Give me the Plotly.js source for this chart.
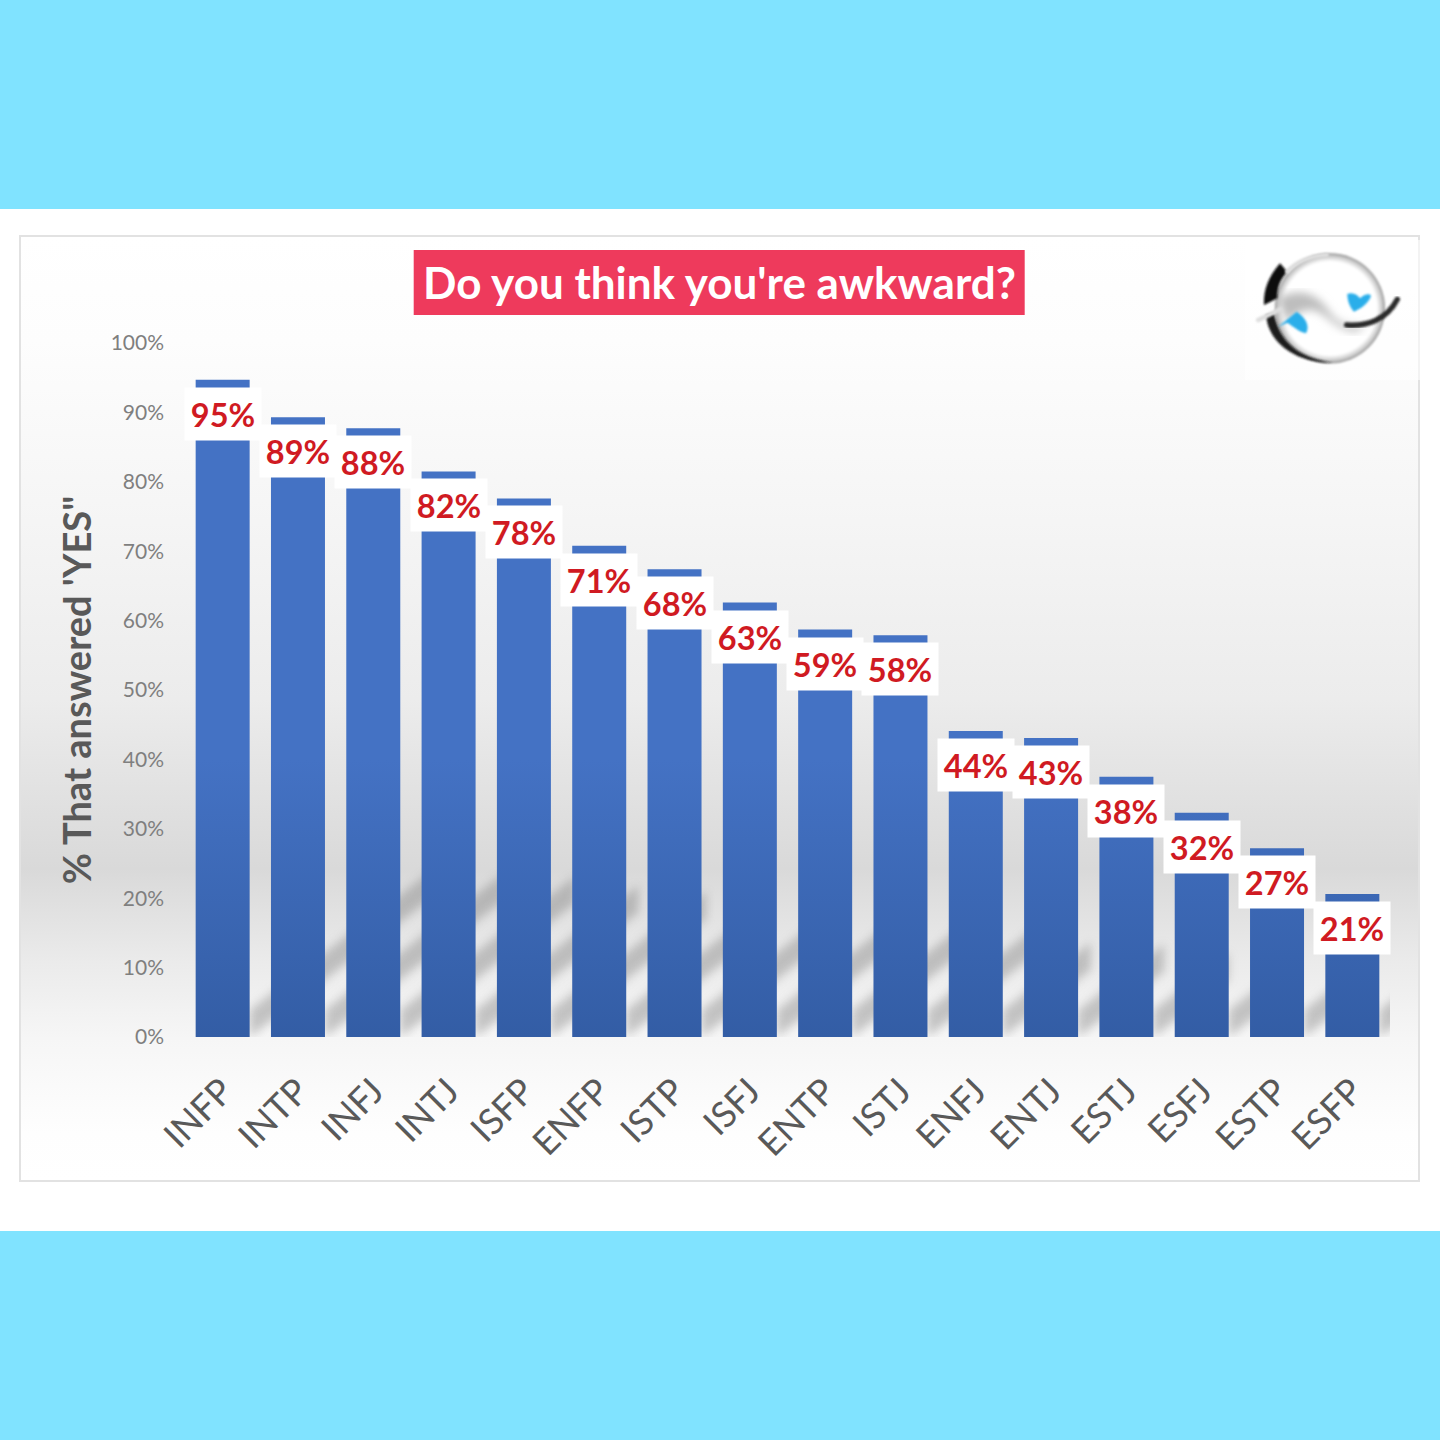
<!DOCTYPE html>
<html>
<head>
<meta charset="utf-8">
<script src="https://cdn.plot.ly/plotly-3.0.1.min.js"></script>
<style>
  html, body { margin: 0; padding: 0; width: 1440px; height: 1440px; background: #80e3ff; overflow: hidden; }
  #band { position: absolute; left: 0; top: 209px; width: 1440px; height: 1022px; background: #fff; }
  #card { position: absolute; left: 19px; top: 235px; width: 1397px; height: 943px; border: 2px solid #e2e2e2;
    background: linear-gradient(to bottom, #ffffff 0%, #fdfdfd 11%, #f6f6f6 28%, #ececec 49%, #d9d9d9 67%, #ebebeb 77%, #f6f6f6 85%, #fefefe 95%, #ffffff 100%); }
  #chart { position: absolute; left: 0; top: 0; width: 1440px; height: 1440px; }
  #logo { position: absolute; left: 1200px; top: 230px; width: 230px; height: 160px; }
  #chart .layer-subplot .shapelayer path { filter: blur(5px); }
</style>
</head>
<body>
<div id="band"></div>
<div id="card"></div>
<div id="chart"></div>
<svg id="logo" viewBox="0 0 690 480">
  <defs>
    <radialGradient id="ball" cx="0.5" cy="0.5" r="0.5">
      <stop offset="0.85" stop-color="#ffffff"/>
      <stop offset="0.96" stop-color="#c2c2c2"/>
      <stop offset="1" stop-color="#8a8a8a"/>
    </radialGradient>
    <filter id="soft"><feGaussianBlur stdDeviation="3"/></filter>
    <filter id="softer"><feGaussianBlur stdDeviation="12"/></filter>
  </defs>
  <rect x="135" y="30" width="530" height="420" fill="#ffffff" opacity="0.6"/>
  <circle cx="390" cy="235" r="165" fill="url(#ball)" filter="url(#soft)"/>
  <path d="M232 205 C300 170 350 190 385 240 C415 285 450 290 500 285 L470 305 C430 305 400 280 370 255 C330 225 285 245 262 280 Z" fill="#bdbdbd" filter="url(#softer)"/>
  <path d="M240 100 C205 140 190 180 192 225 L232 205 C232 170 240 150 262 125 Z" fill="#111" filter="url(#soft)"/>
  <path d="M198 255 C205 340 290 400 400 398 C300 385 240 340 222 250 Z" fill="#1b1b1b" filter="url(#soft)"/>
  <path d="M175 270 L240 238 M262 125 C290 95 330 78 380 75" stroke="#dedede" stroke-width="14" stroke-linecap="round" fill="none" filter="url(#soft)"/>
  <path d="M440 285 C500 290 560 270 592 208" stroke="#2a2a2a" stroke-width="16" stroke-linecap="round" fill="none" filter="url(#soft)"/>
  <path d="M235 290 L290 245 C320 265 330 290 318 310 C295 305 275 285 262 278 Z" fill="#2aaeea" filter="url(#soft)"/>
  <path d="M442 192 C460 185 475 198 480 205 C495 190 510 190 513 198 C505 220 485 235 462 245 C448 230 442 210 442 192 Z" fill="#2aaeea" filter="url(#soft)"/>
</svg>
<script>
var categories = ['INFP', 'INTP', 'INFJ', 'INTJ', 'ISFP', 'ENFP', 'ISTP', 'ISFJ',
                  'ENTP', 'ISTJ', 'ENFJ', 'ENTJ', 'ESTJ', 'ESFJ', 'ESTP', 'ESFP'];
var values = [94.7, 89.3, 87.7, 81.5, 77.6, 70.8, 67.4, 62.6, 58.7, 57.9, 44.1, 43.1, 37.5, 32.3, 27.2, 20.6];
var labels = ['95%', '89%', '88%', '82%', '78%', '71%', '68%', '63%',
              '59%', '58%', '44%', '43%', '38%', '32%', '27%', '21%'];
var yTicks = [0, 10, 20, 30, 40, 50, 60, 70, 80, 90, 100];

var trace = {
  x: categories,
  y: values,
  type: 'bar',
  marker: { color: '#4472c4', line: { width: 0 } },
  hoverinfo: 'skip'
};

// soft diagonal shadow behind every bar, its length follows the bar height
var shadows = values.map(function (v, i) {
  var x0 = i + 0.36;
  var x1 = x0 + v * 0.0265;
  var top = v * 0.22;
  return {
    type: 'path', xref: 'x', yref: 'y', layer: 'below',
    path: 'M' + x0 + ',0 L' + x1 + ',' + top + ' L' + x1 + ',' + (top + 3.9) + ' L' + x0 + ',3.9 Z',
    fillcolor: 'rgba(110,110,110,0.36)',
    line: { width: 0 }
  };
});

var titleBox = {
  type: 'rect', xref: 'paper', yref: 'paper', layer: 'below',
  x0: (414 - 185.3) / 1205, x1: (1025 - 185.3) / 1205,
  y0: (1037 - 315) / 694, y1: (1037 - 250) / 694,
  fillcolor: '#ee3a5c',
  line: { width: 0 }
};

var valueLabels = labels.map(function (t, i) {
  return {
    x: categories[i], y: values[i], xref: 'x', yref: 'y',
    text: t, showarrow: false,
    xanchor: 'center', yanchor: 'top', yshift: -7,
    width: 74, height: 50, bgcolor: '#ffffff',
    font: { family: 'Lato', size: 32.5, color: '#d01a22', weight: 'bold' }
  };
});

var layout = {
  width: 1440,
  height: 1440,
  margin: { l: 185.3, r: 49.7, t: 343, b: 403 },
  paper_bgcolor: 'rgba(0,0,0,0)',
  plot_bgcolor: 'rgba(0,0,0,0)',
  showlegend: false,
  bargap: 0.283,
  title: {
    text: '<b>Do you think you\'re awkward?</b>',
    xref: 'container', yref: 'container',
    x: 719.5 / 1440, y: 1 - 284 / 1440,
    xanchor: 'center', yanchor: 'middle',
    font: { family: 'Lato', size: 44, color: '#ffffff' }
  },
  xaxis: {
    type: 'category',
    range: [-0.5, 15.5],
    tickangle: -45,
    tickfont: { family: 'Lato', size: 36, color: '#595959' },
    ticklabelstandoff: 25,
    ticks: '',
    showgrid: false,
    zeroline: false,
    showline: false,
    automargin: false
  },
  yaxis: {
    range: [0, 100],
    tickvals: yTicks,
    ticktext: yTicks.map(function (v) { return v + '%'; }),
    tickfont: { family: 'Lato', size: 21, color: '#7f7f7f' },
    ticklabelstandoff: 20,
    ticks: '',
    showgrid: false,
    zeroline: false,
    showline: false,
    automargin: false,
    title: {
      text: '<b>% That answered \'YES"</b>',
      standoff: 7,
      font: { family: 'Lato', size: 38, color: '#595959' }
    }
  },
  shapes: shadows.concat([titleBox]),
  annotations: valueLabels
};

Plotly.newPlot('chart', [trace], layout, { staticPlot: true }).then(function (gd) {
  // Plotly bars have no gradient fill, so add it on the drawn paths
  var svg = gd.querySelector('.main-svg');
  var ns = 'http://www.w3.org/2000/svg';
  var grad = document.createElementNS(ns, 'linearGradient');
  grad.setAttribute('id', 'barfill');
  grad.setAttribute('gradientUnits', 'userSpaceOnUse');
  grad.setAttribute('x1', 0); grad.setAttribute('x2', 0);
  // the bars sit inside the plot group, so these are plot-area pixels
  grad.setAttribute('y1', 417); grad.setAttribute('y2', 694);
  [['0', '#4472c4'], ['1', '#335da5']].forEach(function (s) {
    var st = document.createElementNS(ns, 'stop');
    st.setAttribute('offset', s[0]);
    st.setAttribute('stop-color', s[1]);
    grad.appendChild(st);
  });
  var defs = svg.querySelector('defs') || svg.insertBefore(document.createElementNS(ns, 'defs'), svg.firstChild);
  defs.appendChild(grad);
  gd.querySelectorAll('.bars .point path').forEach(function (p) { p.style.fill = 'url(#barfill)'; });
});
</script>
</body>
</html>
